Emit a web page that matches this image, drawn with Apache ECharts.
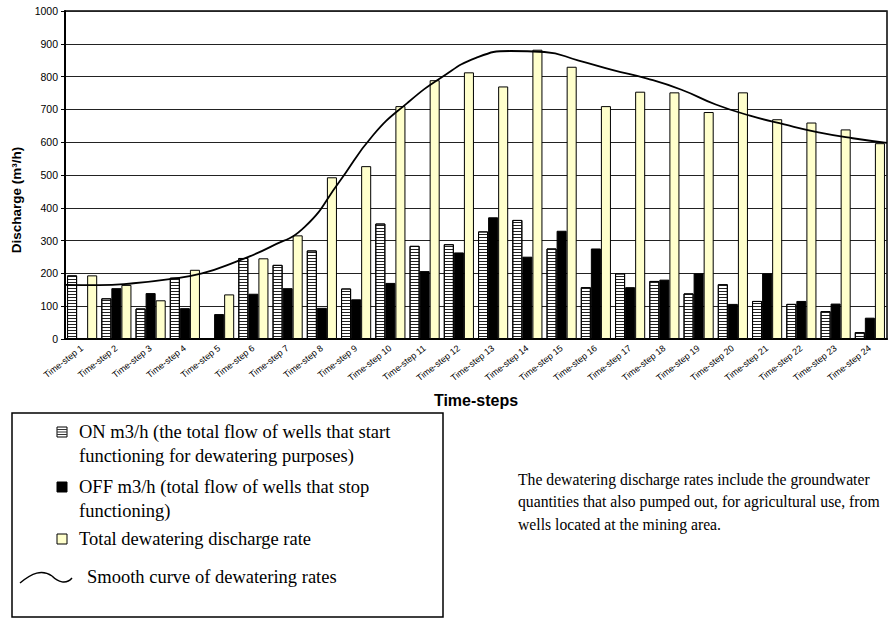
<!DOCTYPE html>
<html>
<head>
<meta charset="utf-8">
<script src="https://cdn.jsdelivr.net/npm/echarts@6/dist/echarts.min.js"></script>
<style>
html,body{margin:0;padding:0;background:#fff;}
#mainChart{width:889px;height:618px;}
</style>
</head>
<body>
<div id="mainChart"></div>
<script>
// categories (time-steps)
var steps = ['Time-step 1','Time-step 2','Time-step 3','Time-step 4','Time-step 5','Time-step 6',
	'Time-step 7','Time-step 8','Time-step 9','Time-step 10','Time-step 11','Time-step 12',
	'Time-step 13','Time-step 14','Time-step 15','Time-step 16','Time-step 17','Time-step 18',
	'Time-step 19','Time-step 20','Time-step 21','Time-step 22','Time-step 23','Time-step 24'];
// ON m3/h
var onValues = [194,124,93,187,0,247,226,270,154,352,284,289,328,363,276,158,200,177,139,167,116,107,85,21];
// OFF m3/h
var offValues = [0,155,140,94,76,138,155,95,121,171,207,264,371,251,330,276,158,181,200,107,200,116,108,65];
// total dewatering discharge rate
var totalValues = [194,165,118,211,136,246,316,493,527,710,789,813,770,882,830,710,754,752,692,752,670,660,639,597];
// smooth curve, read at the category boundaries (0 .. 24)
var curveSteps = ['0','1','2','3','4','5','6','7','8','9','10','11','12','13','14','15','16','17','18','19','20','21','22','23','24'];
var curveValues = [165,164,170,182,200,236,281,342,478,622,720,798,857,878,875,849,820,794,760,715,681,654,630,612,598];
var yTicks = {min: 0, max: 1000, interval: 100};

var dom = document.getElementById("mainChart");
var myChart = echarts.init(dom, null, {renderer: 'svg'});

var sans = '"Liberation Sans", Arial, sans-serif';
var serif = '"Liberation Serif", "Times New Roman", serif';

// horizontal stripes for the ON bars
var hatch = {
	symbol: 'rect',
	symbolSize: 1,
	color: '#222',
	dashArrayX: [1, 0],
	dashArrayY: [1, 2],
	rotation: 0
};

function legendText(x, y, text, size) {
	return {
		type: 'text', x: x, y: y,
		style: {text: text, fontFamily: serif, fontSize: size, fill: '#000', lineHeight: 24, verticalAlign: 'top'}
	};
}

function hatchIcon(x, y) {
	var g = [{type: 'rect', shape: {x: x, y: y, width: 10, height: 10}, style: {fill: '#fff', stroke: '#000', lineWidth: 1}}];
	for (var k = 1; k <= 3; k++) {
		g.push({type: 'line', shape: {x1: x, y1: y + k * 2.5, x2: x + 10, y2: y + k * 2.5}, style: {stroke: '#333', lineWidth: 1}});
	}
	return {type: 'group', children: g};
}

var option = {
	backgroundColor: '#fff',
	animation: false,
	grid: {
		left: 65, right: 2, top: 11, bottom: 279,
		show: true, borderColor: '#000', borderWidth: 1.5
	},
	xAxis: [{
		type: 'category',
		data: steps,
		name: 'Time-steps',
		nameLocation: 'middle',
		nameGap: 53,
		nameTextStyle: {fontFamily: sans, fontWeight: 'bold', fontSize: 16, color: '#000'},
		axisLine: {lineStyle: {color: '#000', width: 2}},
		axisTick: {length: 4, lineStyle: {color: '#000'}},
		axisLabel: {interval: 0, rotate: 38, fontFamily: sans, fontSize: 9, color: '#000', margin: 8}
	}, {
		type: 'category',
		data: curveSteps,
		boundaryGap: false,
		show: false
	}],
	yAxis: {
		type: 'value',
		min: yTicks.min, max: yTicks.max, interval: yTicks.interval,
		name: 'Discharge (m³/h)',
		nameLocation: 'middle',
		nameGap: 41,
		nameTextStyle: {fontFamily: sans, fontWeight: 'bold', fontSize: 13.5, color: '#000', padding: [0, 50, 0, 0]},
		axisLine: {show: true, lineStyle: {color: '#000', width: 2}},
		axisTick: {show: true, length: 4, lineStyle: {color: '#000'}},
		axisLabel: {fontFamily: sans, fontSize: 10.5, color: '#000', margin: 7, formatter: function (v) { return String(v); }},
		splitLine: {lineStyle: {color: '#222', width: 1}}
	},
	series: [{
		name: 'ON m3/h',
		type: 'bar',
		data: onValues,
		barGap: '0%',
		barCategoryGap: '12%',
		itemStyle: {color: '#fff', borderColor: '#000', borderWidth: 1, decal: hatch}
	}, {
		name: 'OFF m3/h',
		type: 'bar',
		data: offValues,
		itemStyle: {color: '#000', borderColor: '#000', borderWidth: 1}
	}, {
		name: 'Total dewatering discharge rate',
		type: 'bar',
		data: totalValues,
		itemStyle: {color: '#ffffcc', borderColor: '#000', borderWidth: 1}
	}, {
		name: 'Smooth curve of dewatering rates',
		type: 'line',
		xAxisIndex: 1,
		data: curveValues,
		smooth: 0.5,
		symbol: 'none',
		lineStyle: {color: '#000', width: 1.8},
		z: 5
	}],
	graphic: [
		// legend box
		{type: 'rect', shape: {x: 12, y: 413, width: 431, height: 204}, style: {fill: 'none', stroke: '#000', lineWidth: 1.5}},
		hatchIcon(57, 427),
		legendText(79, 420, 'ON m3/h (the total flow of wells that start\nfunctioning for dewatering purposes)', 18.5),
		{type: 'rect', shape: {x: 57, y: 482, width: 10, height: 10}, style: {fill: '#000', stroke: '#000', lineWidth: 1}},
		legendText(79, 475, 'OFF m3/h (total flow of wells that stop\nfunctioning)', 18.5),
		{type: 'rect', shape: {x: 57, y: 534, width: 10, height: 10}, style: {fill: '#ffffcc', stroke: '#000', lineWidth: 1}},
		legendText(79, 527, 'Total dewatering discharge rate', 18.5),
		{type: 'bezierCurve', shape: {x1: 20, y1: 583, cpx1: 32, cpy1: 573, cpx2: 42, cpy2: 569, x2: 52, y2: 576}, style: {stroke: '#000', lineWidth: 1.5, fill: 'none'}},
		{type: 'bezierCurve', shape: {x1: 52, y1: 576, cpx1: 58, cpy1: 582, cpx2: 66, cpy2: 585, x2: 72, y2: 578}, style: {stroke: '#000', lineWidth: 1.5, fill: 'none'}},
		legendText(87, 565, 'Smooth curve of dewatering rates', 18.5),
		// note on the right
		{
			type: 'text', x: 518, y: 468,
			style: {
				text: 'The dewatering discharge rates include the groundwater\nquantities that also pumped out, for agricultural use, from\nwells located at the mining area.',
				fontFamily: serif, fontSize: 15.7, fill: '#000', lineHeight: 22.5, verticalAlign: 'top'
			}
		}
	]
};

if (option && typeof option === "object") {
	myChart.setOption(option, true);
}
</script>
</body>
</html>
